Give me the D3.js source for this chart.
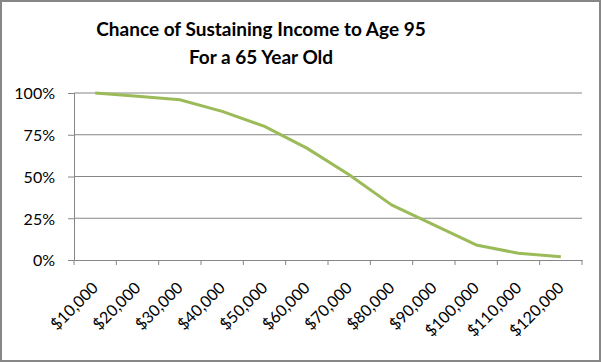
<!DOCTYPE html>
<html>
<head>
<meta charset="utf-8">
<script src="https://cdn.jsdelivr.net/npm/d3@7"></script>
<style>
  body { margin: 0; background: #fff; }
  svg { display: block; }
  .tick text { font-family: Lato, "Open Sans", sans-serif; font-size: 16px; fill: #000; }
</style>
</head>
<body>
<div id="chart"></div>
<script>
// values
const categories = ['$10,000', '$20,000', '$30,000', '$40,000', '$50,000', '$60,000',
  '$70,000', '$80,000', '$90,000', '$100,000', '$110,000', '$120,000']
const chance = [1.00, 0.98, 0.96, 0.89, 0.80, 0.67, 0.51, 0.33, 0.21, 0.09, 0.04, 0.02]
const yTicks = [0, 0.25, 0.5, 0.75, 1]
const titleLines = ['Chance of Sustaining Income to Age 95', 'For a 65 Year Old']

const width = 601, height = 362
const margin = { top: 93, right: 19, bottom: 102, left: 74 }
const innerW = width - margin.left - margin.right
const innerH = height - margin.top - margin.bottom

const svg = d3.select('#chart').append('svg')
  .attr('width', width).attr('height', height)

// chart border
svg.append('rect')
  .attr('x', 1).attr('y', 1)
  .attr('width', width - 2).attr('height', height - 2)
  .attr('fill', '#fff').attr('stroke', '#878787').attr('stroke-width', 2)

svg.append('g').selectAll('text')
  .data(titleLines)
  .enter().append('text')
  .attr('x', 261).attr('y', (d, i) => 36 + i * 28)
  .attr('text-anchor', 'middle')
  .style('font-family', 'Lato, "Open Sans", sans-serif')
  .style('font-weight', 'bold').style('font-size', '19px')
  .text(d => d)

const g = svg.append('g').attr('transform', `translate(${margin.left},${margin.top})`)

const x = d3.scaleBand().domain(categories).range([0, innerW])
const y = d3.scaleLinear().domain([0, 1]).range([innerH, 0])

// gridlines
g.append('g').selectAll('line')
  .data(yTicks.filter(d => d > 0))
  .enter().append('line')
  .attr('x1', 0).attr('x2', innerW)
  .attr('y1', d => y(d)).attr('y2', d => y(d))
  .attr('stroke', '#868686').attr('stroke-width', 1)

const yAxis = g.append('g')
  .call(d3.axisLeft(y).tickValues(yTicks).tickFormat(d3.format('.0%')).tickSize(6).tickPadding(13))
yAxis.selectAll('line, path').attr('stroke', '#868686')
yAxis.selectAll('text').attr('dy', '0.36em')

const xAxis = g.append('g')
  .attr('transform', `translate(0,${innerH})`)
  .call(d3.axisBottom(x).tickValues([]).tickSizeOuter(0))
xAxis.select('path').attr('stroke', '#868686')

// tick marks on band edges
xAxis.selectAll('.edge')
  .data(d3.range(categories.length + 1))
  .enter().append('line')
  .attr('x1', i => i * x.bandwidth()).attr('x2', i => i * x.bandwidth())
  .attr('y1', 0).attr('y2', 5)
  .attr('stroke', '#868686')

xAxis.selectAll('.lbl')
  .data(categories)
  .enter().append('text')
  .attr('text-anchor', 'end')
  .attr('fill', '#000')
  .attr('transform', d => `translate(${x(d) + x.bandwidth() / 2 + 4},${29}) rotate(-45)`)
  .style('font-family', 'Lato, "Open Sans", sans-serif').style('font-size', '16px')
  .text(d => d)

const line = d3.line()
  .x((d, i) => x(categories[i]) + x.bandwidth() / 2)
  .y(d => y(d))

g.append('path')
  .datum(chance)
  .attr('d', line)
  .attr('fill', 'none')
  .attr('stroke', '#9bbb59')
  .attr('stroke-width', 3)
  .attr('stroke-linejoin', 'round')
</script>
</body>
</html>
